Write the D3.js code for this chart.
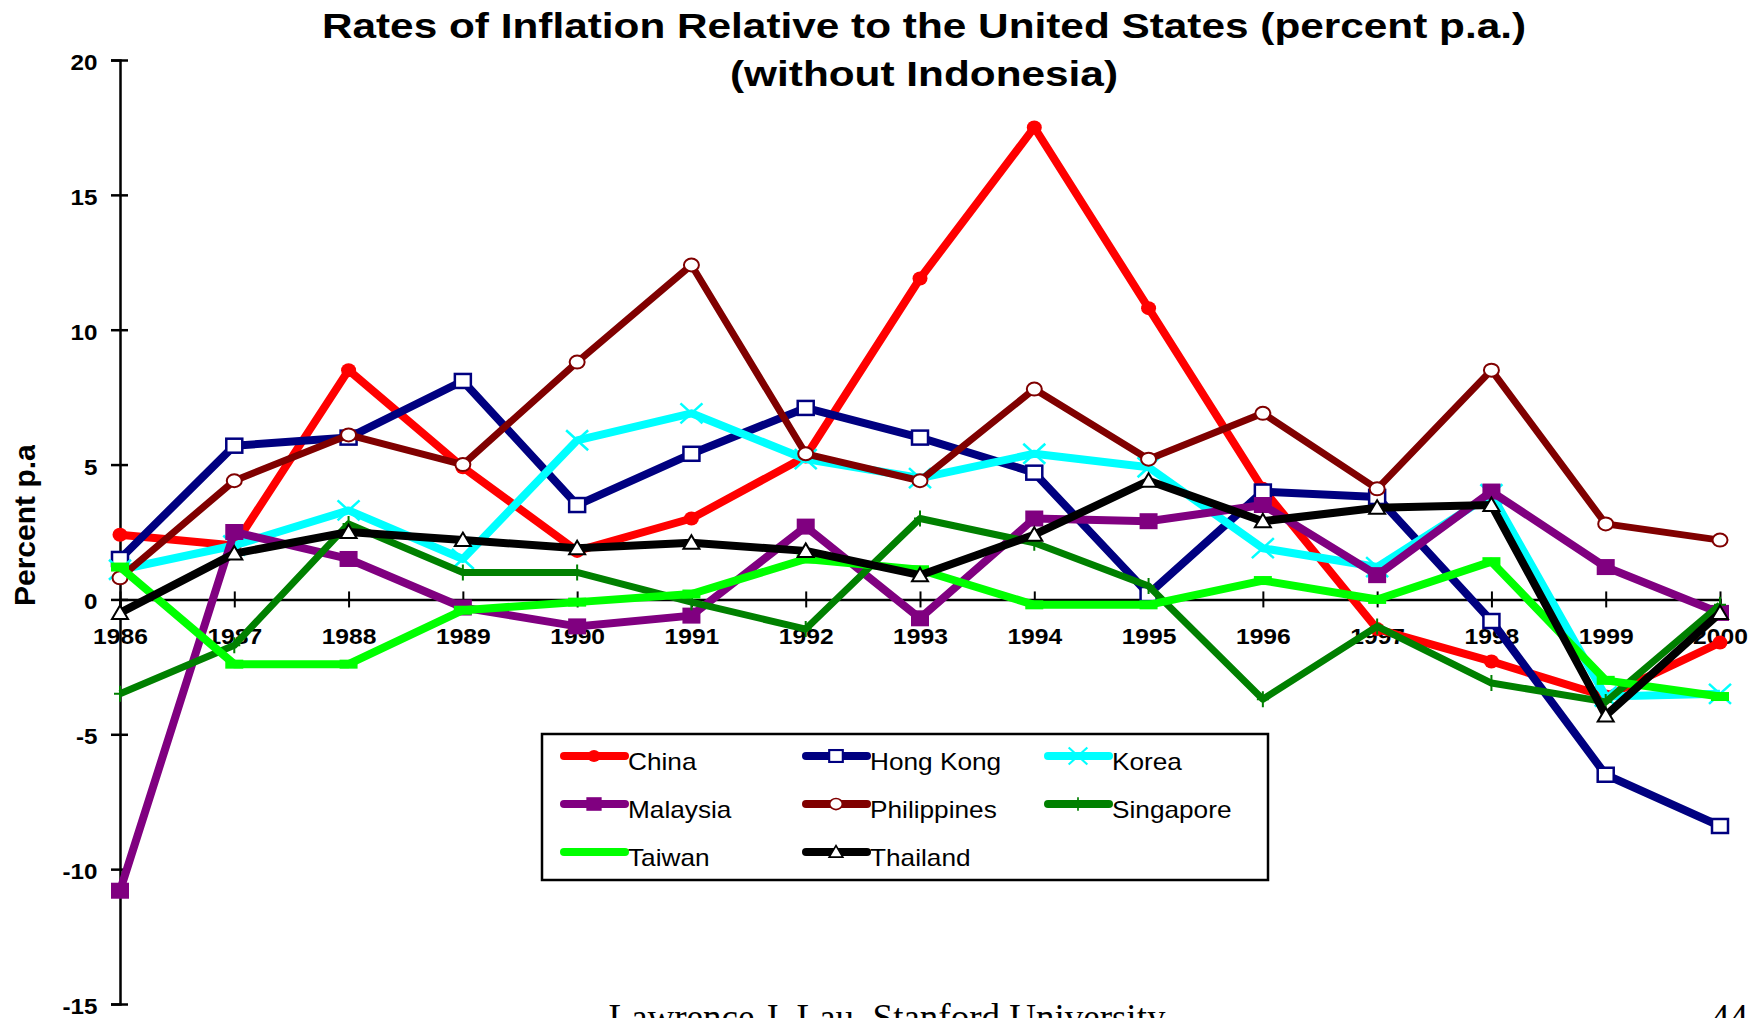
<!DOCTYPE html>
<html lang="en">
<head>
<meta charset="utf-8">
<title>Rates of Inflation Relative to the United States</title>
<script src="https://cdn.jsdelivr.net/npm/d3@7"></script>
<style>
  body { margin: 0; background: #fff; }
  text { font-family: "Liberation Sans", Arial, sans-serif; fill: #000; }
</style>
</head>
<body>
<script>

// data (percent p.a.)
var years = [1986, 1987, 1988, 1989, 1990, 1991, 1992, 1993, 1994, 1995, 1996, 1997, 1998, 1999, 2000];
var yTicks = [-15, -10, -5, 0, 5, 10, 15, 20];

var china       = [2.4, 2.0, 8.5, 4.9, 1.8, 3.0, 5.3, 11.9, 17.5, 10.8, 4.1, -1.1, -2.3, -3.6, -1.6];
var hongKong    = [1.5, 5.7, 6.0, 8.1, 3.5, 5.4, 7.1, 6.0, 4.7, 0.2, 4.0, 3.8, -0.8, -6.5, -8.4];
var korea       = [1.1, 2.0, 3.3, 1.5, 5.9, 6.9, 5.2, 4.5, 5.4, 4.9, 1.9, 1.2, 3.9, -3.6, -3.5];
var malaysia    = [-10.8, 2.5, 1.5, -0.3, -1.0, -0.6, 2.7, -0.7, 3.0, 2.9, 3.5, 0.9, 4.0, 1.2, -0.5];
var philippines = [0.8, 4.4, 6.1, 5.0, 8.8, 12.4, 5.4, 4.4, 7.8, 5.2, 6.9, 4.1, 8.5, 2.8, 2.2];
var singapore   = [-3.5, -1.7, 2.8, 1.0, 1.0, -0.1, -1.1, 3.0, 2.1, 0.5, -3.7, -1.0, -3.1, -3.8, -0.2];
var taiwan      = [1.2, -2.4, -2.4, -0.4, -0.1, 0.2, 1.5, 1.1, -0.2, -0.2, 0.7, 0.0, 1.4, -3.0, -3.6];
var thailand    = [-0.5, 1.7, 2.5, 2.2, 1.9, 2.1, 1.8, 0.9, 2.4, 4.4, 2.9, 3.4, 3.5, -4.3, -0.5];

var names   = ["China", "Hong Kong", "Korea", "Malaysia", "Philippines", "Singapore", "Taiwan", "Thailand"];
var values  = [china, hongKong, korea, malaysia, philippines, singapore, taiwan, thailand];
var colors  = ["#ff0000", "#000080", "#00ffff", "#800080", "#800000", "#008000", "#00ff00", "#000000"];
var markers = ["dot", "square", "x", "fsquare", "circle", "plus", "dash", "tri"];

var w = 1760, h = 1018;

var svg = d3.select("body").append("svg")
  .attr("width", w)
  .attr("height", h);

var x = d3.scalePoint().domain(years).range([120, 1720]);
var y = d3.scaleLinear().domain([-15, 20]).range([1004, 60]);

// text in the picture is a bit wider than plain Arial
function stretch(sel, tx, ty, s) {
  sel.attr("x", 0).attr("y", 0)
     .attr("transform", "translate(" + tx + "," + ty + ") scale(" + s + ",1)");
}

// title
var titleLines = ["Rates of Inflation Relative to the United States (percent p.a.)", "(without Indonesia)"];
titleLines.forEach(function (t, i) {
  svg.append("text")
    .attr("text-anchor", "middle")
    .style("font-size", "35px")
    .style("font-weight", "bold")
    .text(t)
    .call(stretch, 924, 38 + i * 48, 1.21);
});

// y axis
var yAxis = svg.append("g")
  .attr("transform", "translate(" + x(years[0]) + ",0)")
  .call(d3.axisLeft(y).tickValues(yTicks).tickSizeOuter(0).tickSize(9)
          .tickFormat(function (d) { return String(d); }));
yAxis.select(".domain").attr("stroke", "#000").attr("stroke-width", 2.5);
yAxis.selectAll(".tick line").attr("x1", 8).attr("stroke-width", 2.5);
yAxis.selectAll(".tick text")
  .style("font-size", "22px").style("font-weight", "bold")
  .attr("dy", null)
  .each(function () { d3.select(this).call(stretch, -22.5, 9.5, 1.1); });

// x axis on the zero line
var xAxis = svg.append("g")
  .attr("transform", "translate(0," + y(0) + ")")
  .call(d3.axisBottom(x).tickSizeOuter(0).tickSize(8));
xAxis.select(".domain").attr("stroke", "#000").attr("stroke-width", 2.5);
xAxis.selectAll(".tick line").attr("y1", -8).attr("stroke-width", 2);
xAxis.selectAll(".tick text")
  .style("font-size", "22px").style("font-weight", "bold")
  .attr("dy", null)
  .each(function () { d3.select(this).call(stretch, 0, 45, 1.12); });

// y axis title, clipped at the top like the original
svg.append("clipPath").attr("id", "ylab-clip")
  .append("rect").attr("x", 0).attr("y", 445).attr("width", 60).attr("height", 200);
svg.append("g")
  .attr("clip-path", "url(#ylab-clip)")
  .append("text")
  .attr("transform", "translate(35,606) rotate(-90)")
  .style("font-size", "30px").style("font-weight", "bold")
  .text("Percent p.a.");

function drawMarker(g, type, color, k) {
  g = g.append("g").attr("transform", "scale(" + k + ")");
  if (type === "dot") {
    g.append("ellipse").attr("rx", 7.5).attr("ry", 7).attr("fill", color);
  } else if (type === "square") {
    g.append("rect").attr("x", -8).attr("y", -7).attr("width", 16).attr("height", 14)
      .attr("fill", "#fff").attr("stroke", color).attr("stroke-width", 2.5);
  } else if (type === "fsquare") {
    g.append("rect").attr("x", -9).attr("y", -8).attr("width", 18).attr("height", 16)
      .attr("fill", color);
  } else if (type === "x") {
    g.append("path").attr("d", "M-11,-10L11,10M-11,10L11,-10")
      .attr("stroke", color).attr("stroke-width", 2.5).attr("fill", "none");
  } else if (type === "circle") {
    g.append("ellipse").attr("rx", 7.5).attr("ry", 6.5)
      .attr("fill", "#fff").attr("stroke", color).attr("stroke-width", 2);
  } else if (type === "plus") {
    g.append("path").attr("d", "M0,-8V8M-6,0H6")
      .attr("stroke", color).attr("stroke-width", 2).attr("fill", "none");
  } else if (type === "dash") {
    g.append("rect").attr("x", -9).attr("y", -4.5).attr("width", 18).attr("height", 9)
      .attr("fill", color);
  } else if (type === "tri") {
    g.append("path").attr("d", "M0,-7.5L8,6L-8,6Z")
      .attr("fill", "#fff").attr("stroke", color).attr("stroke-width", 2);
  }
}

var line = d3.line()
  .x(function (d, i) { return x(years[i]); })
  .y(function (d) { return y(d); });

names.forEach(function (name, s) {
  var g = svg.append("g").attr("class", "series");
  g.append("path")
    .datum(values[s])
    .attr("d", line)
    .attr("fill", "none")
    .attr("stroke", colors[s])
    .attr("stroke-width", s === 4 || s === 5 ? 7 : 8)
    .attr("stroke-linejoin", "round");
  g.selectAll(".pt")
    .data(values[s])
    .enter().append("g")
    .attr("class", "pt")
    .attr("transform", function (d, i) { return "translate(" + x(years[i]) + "," + y(d) + ")"; })
    .each(function () { drawMarker(d3.select(this), markers[s], colors[s], 1); });
});

// legend
var legend = svg.append("g");
legend.append("rect")
  .attr("x", 542).attr("y", 734).attr("width", 726).attr("height", 146)
  .attr("fill", "#fff").attr("stroke", "#000").attr("stroke-width", 2.5);

names.forEach(function (name, s) {
  var col = s % 3, row = Math.floor(s / 3);
  var lx = 564 + col * 242, ly = 756 + row * 48;
  var item = legend.append("g").attr("transform", "translate(" + lx + "," + ly + ")");
  item.append("line")
    .attr("x1", 0).attr("x2", 61)
    .attr("stroke", colors[s]).attr("stroke-width", 8).attr("stroke-linecap", "round");
  var m = item.append("g").attr("transform", "translate(30,0)");
  if (markers[s] !== "dash") drawMarker(m, markers[s], colors[s], 0.85);
  item.append("text")
    .style("font-size", "23px")
    .text(name)
    .call(stretch, 64, 14, 1.14);
});

// footer
svg.append("text")
  .attr("x", 887).attr("y", 1030)
  .attr("text-anchor", "middle")
  .style("font-family", "'Liberation Serif', 'Times New Roman', serif")
  .style("font-size", "37px")
  .text("Lawrence J. Lau, Stanford University");
svg.append("text")
  .attr("x", 1748).attr("y", 1030)
  .attr("text-anchor", "end")
  .style("font-family", "'Liberation Serif', 'Times New Roman', serif")
  .style("font-size", "37px")
  .text("44");

</script>
</body>
</html>
